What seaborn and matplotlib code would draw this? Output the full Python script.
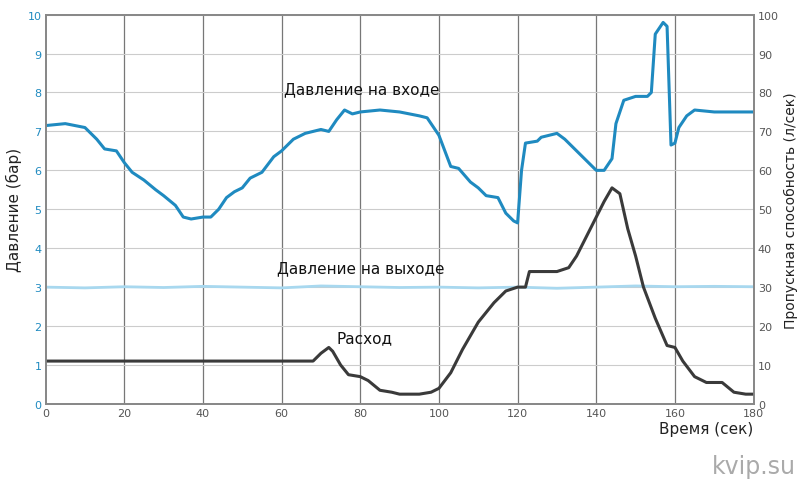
import matplotlib
matplotlib.use("Agg")
import matplotlib.pyplot as plt
import seaborn as sns
import pandas as pd

sns.set_theme(style="white")
plt.rcParams['font.family'] = ['DejaVu Sans']

t_in = [0,5,10,13,15,18,20,22,25,28,30,33,35,37,40,42,44,46,48,50,52,55,58,60,63,66,70,72,74,76,78,80,85,90,95,97,100,103,105,108,110,112,115,117,119,120,121,122,125,126,130,132,135,138,140,142,144,145,147,150,153,154,155,157,158,159,160,161,163,165,170,175,180]
p_in = [7.15,7.2,7.1,6.8,6.55,6.5,6.2,5.95,5.75,5.5,5.35,5.1,4.8,4.75,4.8,4.8,5.0,5.3,5.45,5.55,5.8,5.95,6.35,6.5,6.8,6.95,7.05,7.0,7.3,7.55,7.45,7.5,7.55,7.5,7.4,7.35,6.9,6.1,6.05,5.7,5.55,5.35,5.3,4.9,4.7,4.65,6.0,6.7,6.75,6.85,6.95,6.8,6.5,6.2,6.0,6.0,6.3,7.2,7.8,7.9,7.9,8.0,9.5,9.8,9.7,6.65,6.7,7.1,7.4,7.55,7.5,7.5,7.5]

t_out = [0,10,20,30,40,50,60,70,80,90,100,110,120,130,140,150,160,170,180]
p_out = [3.0,2.98,3.01,2.99,3.02,3.0,2.98,3.03,3.01,2.99,3.0,2.98,3.0,2.97,3.0,3.03,3.01,3.02,3.01]

t_flow = [0,20,40,45,60,68,70,72,73,75,77,80,82,85,88,90,95,98,100,103,106,110,114,117,120,122,123,127,130,133,135,138,140,142,144,146,148,150,152,155,158,160,162,165,168,172,175,178,180]
flow = [11,11,11,11,11,11,13,14.5,13.5,10,7.5,7,6,3.5,3,2.5,2.5,3,4,8,14,21,26,29,30,30,34,34,34,35,38,44,48,52,55.5,54,45,38,30,22,15,14.5,11,7,5.5,5.5,3,2.5,2.5]

fig, ax = plt.subplots(figsize=(8, 4.89), dpi=100)
fig.subplots_adjust(left=0.057, right=0.942, top=0.968, bottom=0.172)
ax2 = ax.twinx()

sns.lineplot(x=t_out, y=p_out, ax=ax, color="#a8d8ef", linewidth=2)
sns.lineplot(x=t_in, y=p_in, ax=ax, color="#1f8ac0", linewidth=2.2)
sns.lineplot(x=t_flow, y=flow, ax=ax2, color="#3a3a3a", linewidth=2.2)

ax.set_xlim(0, 180); ax.set_ylim(0, 10)
ax2.set_ylim(0, 100)
ax.set_xticks(range(0, 181, 20)); ax.set_yticks(range(0, 11))
ax2.set_yticks(range(0, 101, 10))
ax.grid(True, axis='y', color="#cccccc", linewidth=0.8)
for x in range(20, 180, 20):
    ax.axvline(x, color="#777777", linewidth=0.9, zorder=0)
ax2.grid(False)
for a in (ax, ax2):
    for s in a.spines.values():
        s.set_color("#888888")
ax.tick_params(labelsize=8, colors="#555555", length=0, pad=3)
ax.tick_params(axis='y', labelcolor="#1f8ac0")
ax2.tick_params(labelsize=8, colors="#555555", length=0, pad=3)

ax.set_ylabel("Давление (бар)", fontsize=11, color="#222222", labelpad=4)
ax2.set_ylabel("Пропускная способность (л/сек)", fontsize=10, color="#222222", labelpad=4)
ax.set_xlabel("")
ax.text(180, -0.45, "Время (сек)", ha="right", va="top", fontsize=11, color="#222222")
ax.text(80.5, 8.1, "Давление на входе", ha="center", va="center", fontsize=11, color="#111111")
ax.text(80, 3.5, "Давление на выходе", ha="center", va="center", fontsize=11, color="#111111")
ax.text(81, 1.7, "Расход", ha="center", va="center", fontsize=11, color="#111111")
fig.text(0.995, 0.02, "kvip.su", ha="right", va="bottom", fontsize=17, color="#aaaaaa")

fig.savefig("out.png", dpi=100)
